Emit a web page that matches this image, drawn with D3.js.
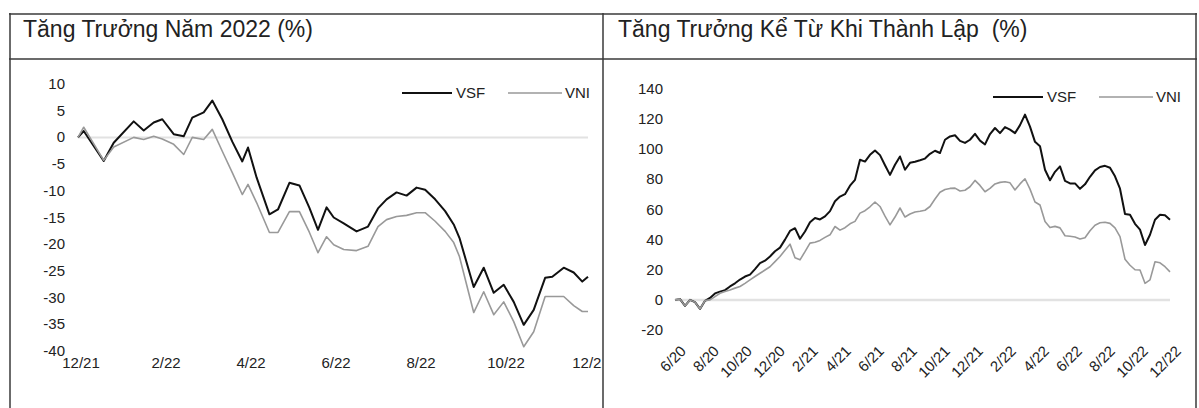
<!DOCTYPE html>
<html>
<head>
<meta charset="utf-8">
<script src="https://cdnjs.cloudflare.com/ajax/libs/d3/7.8.5/d3.min.js"></script>
<style>
	body { margin: 0; background: #fff; }
	svg text { font-family: "Liberation Sans", Arial, sans-serif; fill: #222; }
</style>
</head>
<body>
<svg id="chart" width="1199" height="408"></svg>
<script>
// --- Tăng trưởng năm 2022: ngày kể từ 31/12/2021 và % tăng trưởng
var ytdDays = [0,4,18,25,39,46,53,59,67,74,80,88,94,101,108,115,119,125,134,140,148,155,162,168,174,179,186,195,203,210,216,223,230,237,243,250,257,263,267,277,284,291,298,305,312,319,327,332,340,347,353,357];
var ytdVSF = [0,1.2,-4.4,-1.0,3.0,1.3,2.8,3.4,0.6,0.2,3.7,4.7,6.9,3.4,-0.8,-4.5,-1.9,-7.5,-14.4,-13.5,-8.5,-9.0,-13.2,-17.3,-13.1,-15.0,-16.1,-17.6,-16.7,-13.3,-11.6,-10.3,-10.9,-9.4,-9.8,-11.6,-13.8,-16.3,-18.8,-28.0,-24.4,-29.1,-27.6,-30.8,-35.1,-32.3,-26.3,-26.1,-24.4,-25.3,-27.0,-26.1];
var ytdVNI = [0,1.9,-4.3,-1.8,0.0,-0.4,0.2,-0.3,-1.3,-3.2,0.0,-0.4,1.5,-2.6,-6.6,-10.7,-8.8,-12.2,-17.8,-17.8,-13.9,-13.9,-17.8,-21.6,-18.6,-20.1,-21.0,-21.2,-20.4,-16.7,-15.4,-14.8,-14.6,-14.1,-14.1,-15.7,-17.6,-19.7,-22.3,-32.8,-28.9,-33.2,-30.8,-34.5,-39.2,-36.4,-29.8,-29.8,-29.8,-31.5,-32.6,-32.6];
var ytdXLabels = ["12/21","2/22","4/22","6/22","8/22","10/22","12/22"];
var ytdYTicks = [10,5,0,-5,-10,-15,-20,-25,-30,-35,-40];

// --- Tăng trưởng kể từ khi thành lập (6/2020 - 12/2022)
var incVSF = [0,0.5,-4,0,-1.5,-6,-0.6,1.3,4.3,5.5,
	6.5,8.9,11,13.5,15.5,16.8,20.4,24.4,26,28.8,
	32.3,34.7,40,45.8,47.6,40.6,45.4,51.5,54.3,53.4,
	55.4,58.9,65.5,68.6,70.2,75.8,79.7,93,91.8,96.3,
	99.2,96.1,89.4,83,89.7,95.2,86.4,91,91.7,92.7,
	93.8,97,99,97.5,106.3,108.5,109.3,105.6,104.2,106.3,
	110.2,105.7,103.2,110.1,114.1,110.7,114.7,113,110.7,116,
	123,115,104.9,102,86.4,79.4,85,88.6,79,77.3,
	77.3,73.7,76.7,81.7,86,88.2,89,87.7,82,73.8,
	57,56.5,50.5,46.6,36.4,43.2,53.2,56.5,56.2,53.2];
var incVNI = [0,0.5,-4,0,-1.5,-6,-0.5,0,2.2,4.4,
	5.5,6.6,7.8,8.9,11,13.3,15.5,17.7,19.8,22,
	25.4,28.8,33,37,28,26.6,32,37.7,38.3,39.5,
	41.5,43.2,48.7,46.3,47.9,50.5,52.1,57.6,59.2,61.8,
	65,62,55.6,49.8,55,61,55,57,58.3,58.8,
	59.5,62,67,71.5,73.3,74,74.2,72.3,72.8,75.1,
	79.3,76,71.8,74,77,78,78.4,77.7,73,77,
	80.4,73.5,65,63,52,48,48.8,47.8,42.6,42.2,
	41.7,40.4,41.2,45.9,49.6,51.2,51.5,50.8,47.8,42,
	27,23,20,19.8,11,13.3,25.3,24.6,22,18.6];
var incXLabels = ["6/20","8/20","10/20","12/20","2/21","4/21","6/21","8/21","10/21","12/21","2/22","4/22","6/22","8/22","10/22","12/22"];
var incYTicks = [140,120,100,80,60,40,20,0,-20];

var svg = d3.select("#chart");

// vùng cắt cho bảng trái (nhãn 12/22 bị che bởi đường chia)
svg.append("defs").append("clipPath").attr("id", "clipLeft")
	.append("rect").attr("x", 0).attr("y", 0).attr("width", 602).attr("height", 408);

// khung bảng
function drawFrame(){
	var g = svg.append("g").attr("stroke", "#3a3a3a").attr("stroke-width", 1.5);
	[[9, 14, 1197, 14], [9, 59, 1197, 59], [10, 13, 10, 408], [603, 13, 603, 408], [1196, 13, 1196, 408]]
		.forEach(function(l){
			g.append("line").attr("x1", l[0]).attr("y1", l[1]).attr("x2", l[2]).attr("y2", l[3]);
		});
	svg.append("text").attr("x", 23).attr("y", 37).attr("font-size", 23)
		.text("Tăng Trưởng Năm 2022 (%)");
	svg.append("text").attr("x", 618).attr("y", 37).attr("font-size", 23)
		.attr("xml:space", "preserve").style("white-space", "pre")
		.text("Tăng Trưởng Kể Từ Khi Thành Lập  (%)");
}

function drawLegend(x0, y0){
	var g = svg.append("g").attr("font-size", 15);
	g.append("line").attr("x1", x0).attr("x2", x0 + 50).attr("y1", y0).attr("y2", y0)
		.attr("stroke", "#111").attr("stroke-width", 2);
	g.append("text").attr("x", x0 + 54).attr("y", y0 + 5).text("VSF");
	g.append("line").attr("x1", x0 + 106).attr("x2", x0 + 160).attr("y1", y0).attr("y2", y0)
		.attr("stroke", "#999").attr("stroke-width", 1.5);
	g.append("text").attr("x", x0 + 163).attr("y", y0 + 5).text("VNI");
}

function drawSeries(x, y, xs, vals, color, width){
	var line = d3.line()
		.x(function(d, i){ return x(xs[i]); })
		.y(function(d){ return y(d); });
	svg.append("path").datum(vals)
		.attr("d", line)
		.attr("fill", "none")
		.attr("stroke", color)
		.attr("stroke-width", width)
		.attr("stroke-linejoin", "round");
}

function drawYtd(){
	var x = d3.scaleLinear().domain([0, 357]).range([78, 588]);
	var y = d3.scaleLinear().domain([-40, 10]).range([351, 84]);

	svg.append("g").attr("font-size", 15).selectAll("text").data(ytdYTicks).enter()
		.append("text").attr("x", 65).attr("y", function(d){ return y(d) + 5; })
		.attr("text-anchor", "end").text(function(d){ return d; });

	var step = 357 / (ytdXLabels.length - 1);
	svg.append("g").attr("font-size", 15).attr("clip-path", "url(#clipLeft)")
		.selectAll("text").data(ytdXLabels).enter()
		.append("text").attr("x", function(d, i){ return x(i * step) + 3; }).attr("y", 368)
		.attr("text-anchor", "middle").text(function(d){ return d; });

	svg.append("line").attr("x1", x(0)).attr("x2", x(357)).attr("y1", y(0)).attr("y2", y(0))
		.attr("stroke", "#e2e2e2").attr("stroke-width", 2);

	drawSeries(x, y, ytdDays, ytdVSF, "#111", 2);
	drawSeries(x, y, ytdDays, ytdVNI, "#999", 1.6);
	drawLegend(402, 93);
}

function drawInception(){
	var n = incVSF.length;
	var idx = d3.range(n);
	var x = d3.scaleLinear().domain([0, n - 1]).range([675, 1170]);
	var y = d3.scaleLinear().domain([-20, 140]).range([330, 89]);

	svg.append("g").attr("font-size", 15).selectAll("text").data(incYTicks).enter()
		.append("text").attr("x", 663).attr("y", function(d){ return y(d) + 5; })
		.attr("text-anchor", "end").text(function(d){ return d; });

	var step = (n - 1) / (incXLabels.length - 1);
	svg.append("g").attr("font-size", 15).selectAll("text").data(incXLabels).enter()
		.append("text")
		.attr("transform", function(d, i){ return "translate(" + (x(i * step) + 12) + ",352) rotate(-45)"; })
		.attr("text-anchor", "end").text(function(d){ return d; });

	svg.append("line").attr("x1", x(0)).attr("x2", x(n - 1)).attr("y1", y(0)).attr("y2", y(0))
		.attr("stroke", "#e2e2e2").attr("stroke-width", 2.5);

	drawSeries(x, y, idx, incVSF, "#111", 2);
	drawSeries(x, y, idx, incVNI, "#999", 1.6);
	drawLegend(993, 97);
}

drawFrame();
drawYtd();
drawInception();
</script>
</body>
</html>
